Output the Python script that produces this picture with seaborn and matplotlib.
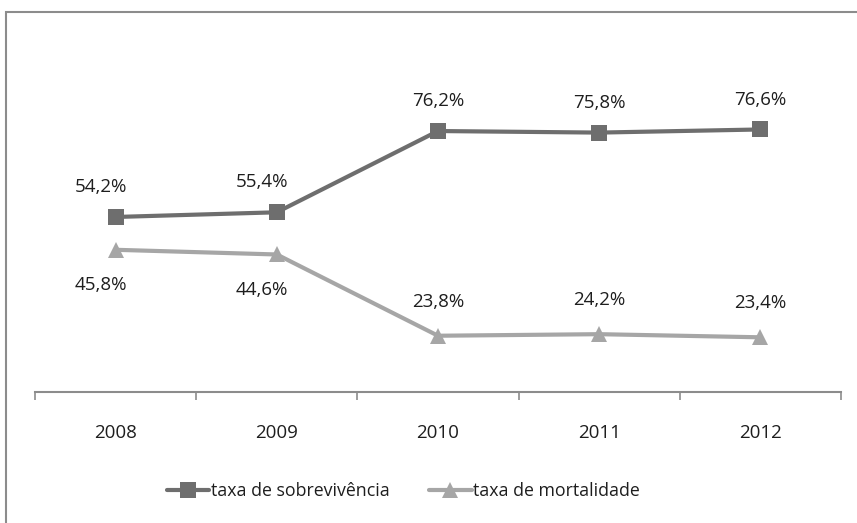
import matplotlib
matplotlib.use("Agg")
import matplotlib.pyplot as plt
import seaborn as sns
import pandas as pd
from matplotlib.patches import Rectangle

# Data
anos = ["2008", "2009", "2010", "2011", "2012"]
sobrevivencia = [54.2, 55.4, 76.2, 75.8, 76.6]
mortalidade = [45.8, 44.6, 23.8, 24.2, 23.4]
series_names = ["taxa de sobrevivência", "taxa de mortalidade"]

sns.set_style("white")
plt.rcParams['font.family'] = ['Open Sans', 'DejaVu Sans']

df = pd.DataFrame({
    "ano": anos * 2,
    "valor": sobrevivencia + mortalidade,
    "serie": [series_names[0]] * 5 + [series_names[1]] * 5,
})
df["x"] = list(range(5)) * 2

cores = {series_names[0]: "#6e6e6e", series_names[1]: "#a6a6a6"}
marcadores = {series_names[0]: "s", series_names[1]: "^"}
fs = 13.5
txt = "#1e1e1e"

fig = plt.figure(figsize=(8.57, 5.23), dpi=100)
ax = fig.add_axes([35 / 857, 1 - 392 / 523, 806 / 857, 352 / 523])

sns.lineplot(data=df, x="x", y="valor", hue="serie", style="serie",
             markers=marcadores, dashes=False, palette=cores,
             linewidth=3, markersize=11, markeredgewidth=0, ax=ax)

ax.set_xlim(-0.5, 4.5)
ax.set_ylim(9.4, 99.5)
ax.set_xticks([i - 0.5 for i in range(6)])
ax.set_xticklabels([])
ax.set_xticks(range(5), minor=True)
ax.set_xticklabels(anos, minor=True, fontsize=fs, color=txt)
ax.tick_params(axis="x", which="major", length=6, width=1.2, color="#8c8c8c",
               direction="out", bottom=True)
ax.tick_params(axis="x", which="minor", length=0, pad=23)
ax.set_yticks([])
ax.set_xlabel("")
ax.set_ylabel("")
for s in ["top", "left", "right"]:
    ax.spines[s].set_visible(False)
ax.spines["bottom"].set_color("#8c8c8c")
ax.spines["bottom"].set_linewidth(1.5)

# Data labels
for i, v in enumerate(sobrevivencia):
    dx = -0.09 if i < 2 else 0
    ax.annotate(f"{v:.1f}%".replace(".", ","), (i + dx, v), xytext=(0, 15),
                textcoords="offset points", ha="center", va="bottom",
                fontsize=fs, color=txt)
for i, v in enumerate(mortalidade):
    if i < 2:
        ax.annotate(f"{v:.1f}%".replace(".", ","), (i - 0.09, v), xytext=(0, -19),
                    textcoords="offset points", ha="center", va="top",
                    fontsize=fs, color=txt)
    else:
        ax.annotate(f"{v:.1f}%".replace(".", ","), (i, v), xytext=(0, 18),
                    textcoords="offset points", ha="center", va="bottom",
                    fontsize=fs, color=txt)

leg = ax.legend(loc="upper center", bbox_to_anchor=(0.457, -0.21), ncol=2,
                frameon=False, fontsize=12.8, handlelength=2.4,
                handletextpad=0.1, columnspacing=2.2)
for t in leg.get_texts():
    t.set_color(txt)

# chart border
fig.patches.append(Rectangle((6 / 857, -0.1), 1.0, 1 - 12 / 523 + 0.1,
                             transform=fig.transFigure, fill=False,
                             edgecolor="#8c8c8c", linewidth=1.5))

plt.savefig("out.png", dpi=100)
